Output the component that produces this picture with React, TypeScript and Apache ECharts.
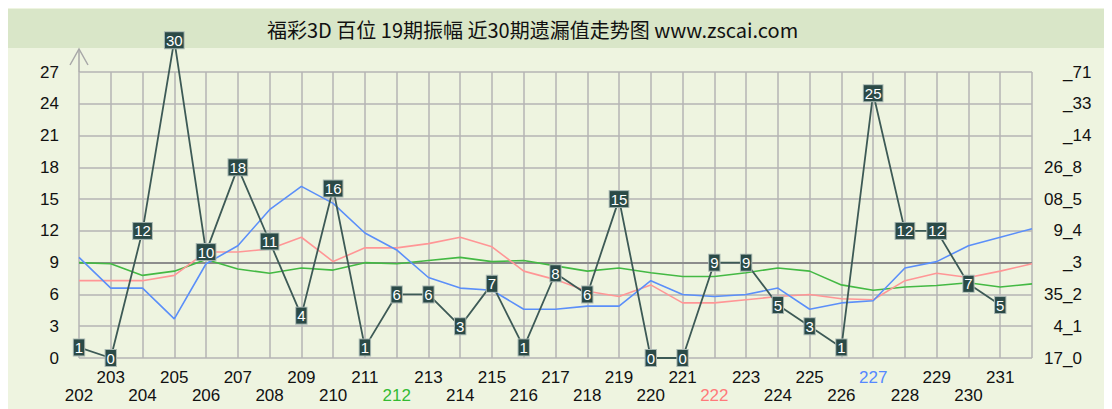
import React, { useEffect, useRef } from "react";
import * as echarts from "echarts";

const categories = ["202","203","204","205","206","207","208","209","210","211","212","213","214","215","216","217","218","219","220","221","222","223","224","225","226","227","228","229","230","231","232"];
const mainValues = [1,0,12,30,10,18,11,4,16,1,6,6,3,7,1,8,6,15,0,0,9,9,5,3,1,25,12,12,7,5,null];
const blueValues = [9.5,6.6,6.6,3.7,8.9,10.6,14.0,16.2,14.6,11.8,10.2,7.6,6.6,6.4,4.6,4.6,4.9,4.9,7.3,6.0,5.8,6.0,6.6,4.6,5.2,5.4,8.5,9.1,10.6,11.4,12.2];
const redValues = [7.3,7.3,7.3,7.8,10.0,10.0,10.3,11.4,9.1,10.4,10.4,10.8,11.4,10.5,8.2,7.4,6.3,5.8,6.9,5.2,5.2,5.5,5.8,6.0,5.6,5.5,7.3,8.0,7.6,8.2,8.9];
const greenValues = [9.0,8.9,7.8,8.2,9.3,8.4,8.0,8.5,8.3,9.0,8.9,9.2,9.5,9.1,9.2,8.7,8.2,8.5,8.05,7.7,7.7,8.05,8.5,8.2,6.9,6.4,6.7,6.85,7.1,6.7,7.0];
const rightLabels = ["17_0","4_1","35_2","_3","9_4","08_5","26_8","_14","_33","_71"];
const highlightLabels: Record<string, string> = { "212": "g", "222": "r", "227": "b" };
const refLine = 9;
const titleText = "福彩3D 百位 19期振幅 近30期遗漏值走势图 www.zscai.com";

const FONT = "Liberation Sans, Arial, sans-serif";

if (typeof document !== "undefined") {
  document.documentElement.style.overflow = "hidden";
  document.body.style.overflow = "hidden";
}

export default function App() {
  const ref = useRef<HTMLDivElement>(null);
  useEffect(() => {
    if (!ref.current) return;
    const chart = echarts.init(ref.current, undefined, { renderer: "svg" });
    const labelAxisBase = {
      type: "value" as const,
      min: 0,
      max: 27,
      interval: 3,
      position: "right" as const,
      axisLine: { show: false },
      axisTick: { show: false },
      splitLine: { show: false },
    };
    chart.setOption({
      animation: false,
      backgroundColor: "#eef4e0",
      title: {
        text: titleText,
        left: 254,
        top: 6,
        textStyle: { fontSize: 20, fontWeight: "normal", color: "#111", fontFamily: "Noto Sans CJK SC, sans-serif" },
      },
      graphic: [
        { type: "rect", z: -10, shape: { x: 0, y: 1, width: 1104, height: 39 }, style: { fill: "#d9e6c8" } },
        { type: "polyline", z: 1, shape: { points: [[62, 57], [71, 41], [80, 57]] }, style: { stroke: "#a8a8a8", lineWidth: 1.5, fill: "none" } },
        { type: "line", z: 1, shape: { x1: 71, y1: 41, x2: 71, y2: 64 }, style: { stroke: "#a8a8a8", lineWidth: 1.5 } },
      ],
      grid: { left: 71, right: 80, top: 64, bottom: 51 },
      xAxis: {
        type: "category",
        data: categories,
        boundaryGap: false,
        axisLine: { show: false },
        axisTick: { show: false },
        splitLine: { show: true, interval: 0, lineStyle: { color: "#b4b4b4", width: 1.5 } },
        axisLabel: {
          interval: 0,
          margin: 10,
          fontSize: 17,
          lineHeight: 18,
          fontFamily: FONT,
          color: "#111",
          formatter: (v: string, i: number) => {
            if (i === categories.length - 1) return "";
            const k = highlightLabels[v] || "n";
            return (i % 2 === 0 ? "\n" : "") + `{${k}|${v}}`;
          },
          rich: {
            n: { fontSize: 17, lineHeight: 18, color: "#111", fontFamily: FONT },
            g: { fontSize: 17, lineHeight: 18, color: "#33bb33", fontFamily: FONT },
            r: { fontSize: 17, lineHeight: 18, color: "#ff7a7a", fontFamily: FONT },
            b: { fontSize: 17, lineHeight: 18, color: "#5588ff", fontFamily: FONT },
          },
        },
      },
      yAxis: [
        {
          type: "value",
          min: 0,
          max: 27,
          interval: 3,
          position: "left",
          axisLine: { show: false },
          axisTick: { show: false },
          splitLine: { show: true, lineStyle: { color: "#b4b4b4", width: 1.5 } },
          axisLabel: { margin: 20, fontSize: 17, fontFamily: FONT, color: "#111" },
        },
        {
          ...labelAxisBase,
          axisLabel: {
            margin: 31,
            align: "right",
            fontSize: 17,
            fontFamily: FONT,
            color: "#111",
            formatter: (v: number) => rightLabels[Math.round(v / 3)].split("_")[0],
          },
        },
        {
          ...labelAxisBase,
          axisLabel: {
            margin: 31,
            align: "left",
            fontSize: 17,
            fontFamily: FONT,
            color: "#111",
            formatter: (v: number) => "_" + rightLabels[Math.round(v / 3)].split("_")[1],
          },
        },
      ],
      series: [
        {
          type: "line",
          data: greenValues,
          symbol: "none",
          z: 3,
          lineStyle: { color: "#44b944", width: 1.6 },
          markLine: {
            silent: true,
            symbol: "none",
            label: { show: false },
            lineStyle: { color: "#8c8c8c", width: 2, type: "solid" },
            data: [{ yAxis: refLine }],
            z: 2,
          },
        },
        { type: "line", data: redValues, symbol: "none", z: 3, lineStyle: { color: "#ff9696", width: 1.6 } },
        { type: "line", data: blueValues, symbol: "none", z: 3, lineStyle: { color: "#5b8ff9", width: 1.6 } },
        {
          type: "line",
          data: mainValues,
          clip: false,
          z: 5,
          symbol: "rect",
          symbolSize: 1,
          showSymbol: true,
          itemStyle: { color: "#3d5a56" },
          lineStyle: { color: "#3d5a56", width: 1.8 },
          label: {
            show: true,
            position: "inside",
            color: "#fff",
            fontSize: 15,
            lineHeight: 16,
            fontFamily: FONT,
            backgroundColor: "#2b4a47",
            borderColor: "#a9b8b2",
            borderWidth: 1,
            padding: [0, 1, 0, 1],
          },
        },
      ],
    });
    return () => chart.dispose();
  }, []);
  return <div ref={ref} style={{ width: 1104, height: 401 }} />;
}
